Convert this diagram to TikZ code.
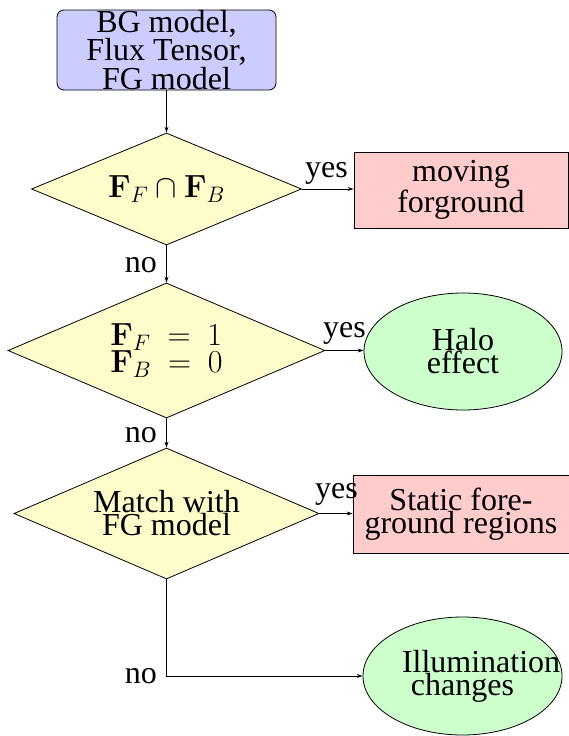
\RequirePackage{fix-cm}
\documentclass[tikz,border=0pt]{standalone}
\usepackage[no-math]{fontspec}
\setmainfont{Liberation Serif}
\usetikzlibrary{shapes.geometric,arrows.meta}

\tikzset{
  base/.style={draw=black, line width=0.8pt, inner sep=0pt, align=center,
               font=\fontsize{32}{23}\selectfont},
  startbox/.style={base, rectangle, rounded corners=7pt, fill=blue!20},
  decision/.style={base, diamond, aspect=2.35, fill=yellow!20},
  outbox/.style={base, rectangle, fill=red!20},
  outell/.style={base, ellipse, fill=green!20},
  link/.style={line width=0.8pt, -{Stealth[length=6pt,width=4pt]}},
  lbl/.style={inner sep=0pt, font=\fontsize{32}{23}\selectfont}
}

\begin{document}
\begin{tikzpicture}[x=1pt,y=-1pt]
  \useasboundingbox (0,0) rectangle (569,736);

  % input block
  \node[startbox, minimum width=219pt, minimum height=80pt] (start) at (166.5,50)
    {BG model,\\Flux Tensor,\\FG model};

  % decisions
  \node[decision, minimum width=270pt, minimum height=112pt] (d1) at (166.5,189)
    {$\mathbf{F}_F \cap \mathbf{F}_B$};
  \node[decision, minimum width=317pt, minimum height=135pt, align=left] (d2) at (166.5,350.5)
    {$\mathbf{F}_F\ =\ 1$\\$\mathbf{F}_B\ =\ 0$};
  \node[decision, minimum width=305pt, minimum height=131pt] (d3) at (166.5,513.5)
    {Match with\\FG model};

  % outcomes
  \node[outbox, minimum width=214pt, minimum height=76pt] (b1) at (461,190)
    {moving\\forground};
  \node[outell, minimum width=198pt, minimum height=117pt] (e1) at (463,351.5)
    {Halo\\effect};
  \node[outbox, minimum width=216pt, minimum height=78pt] (b2) at (461,514)
    {Static fore-\\ground regions};
  \node[outell, minimum width=199pt, minimum height=118pt, text width=121pt] (e2) at (462.5,676)
    {Illumination\\changes};

  % main flow
  \draw[link] (d1.north |- start.south) -- (d1.north);
  \draw[link] (d1.south) -- (d2.north);
  \draw[link] (d2.south) -- (d3.north);

  % branches
  \draw[link] (d1.east) -- (d1.east -| b1.west);
  \draw[link] (d2.east) -- (d2.east -| e1.west);
  \draw[link] (d3.east) -- (d3.east -| b2.west);
  \draw[link] (d3.south) |- (e2.west);

  % branch labels
  \node[lbl, anchor=base west] (y1) at (305,177) {yes};
  \node[lbl, anchor=base west] (y2) at (323,337) {yes};
  \node[lbl, anchor=base west] (y3) at (315,498) {yes};
  \node[lbl, anchor=base east] (n1) at (157,272) {no};
  \node[lbl, anchor=base east] (n2) at (157,442) {no};
  \node[lbl, anchor=base east] (n3) at (157,683) {no};
\end{tikzpicture}
\end{document}
